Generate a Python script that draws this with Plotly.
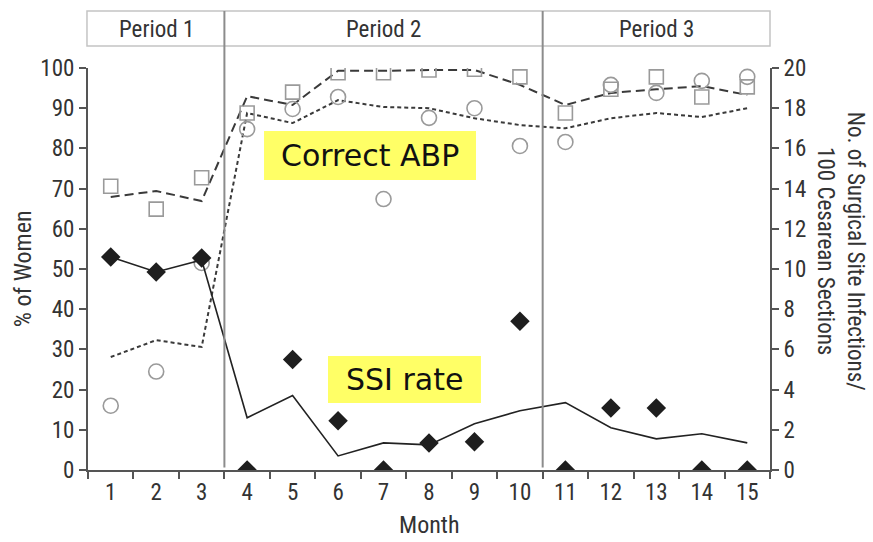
import plotly.graph_objects as go

# Monthly data
months = list(range(1, 16))

# Percent of women (left axis)
pct_squares = [70.6, 64.9, 72.7, 88.8, 94.0, 98.8, 98.8, 99.5, 99.7, 97.8, 88.8, 94.7, 97.8, 92.8, 95.3]
pct_squares_trend = [67.9, 69.4, 66.9, 93.0, 90.8, 99.3, 99.3, 99.5, 99.5, 95.8, 90.8, 93.8, 94.7, 95.5, 93.3]
pct_circles = [16.0, 24.5, 51.5, 84.8, 89.8, 92.8, 67.4, 87.6, 90.0, 80.6, 81.6, 95.8, 93.8, 96.8, 97.8]
pct_circles_trend = [28.1, 32.3, 30.6, 88.8, 86.3, 92.0, 90.3, 90.0, 87.5, 85.8, 85.0, 87.5, 88.8, 87.8, 90.0]

# Surgical site infections per 100 cesarean sections (right axis)
ssi_rate = [10.6, 9.85, 10.55, 0, 5.5, 2.45, 0, 1.34, 1.4, 7.4, 0, 3.08, 3.08, 0, 0]
ssi_trend = [10.6, 9.85, 10.45, 2.6, 3.7, 0.7, 1.35, 1.25, 2.3, 2.95, 3.35, 2.1, 1.55, 1.8, 1.35]

period_labels = ["Period 1", "Period 2", "Period 3"]
period_centers = [2, 7, 13]
period_breaks = [3.5, 10.5]

left_ticks = list(range(0, 101, 10))
right_ticks = list(range(0, 21, 2))

TXT = "#333333"
AX = "#555555"
NARROW = "Liberation Sans Narrow, Arial Narrow, Roboto Condensed, Liberation Sans, sans-serif"

fig = go.Figure()

fig.add_trace(go.Scatter(x=months, y=pct_squares_trend, mode="lines",
                         line=dict(color="#3a3a3a", width=2, dash="9px,5px"),
                         hoverinfo="skip"))
fig.add_trace(go.Scatter(x=months, y=pct_circles_trend, mode="lines",
                         line=dict(color="#3a3a3a", width=2, dash="4px,3px"),
                         hoverinfo="skip"))
fig.add_trace(go.Scatter(x=months, y=pct_squares, mode="markers",
                         marker=dict(symbol="square-open", size=14,
                                     color="#9a9a9a", line=dict(width=1.6, color="#9a9a9a"))))
fig.add_trace(go.Scatter(x=months, y=pct_circles, mode="markers",
                         marker=dict(symbol="circle-open", size=15,
                                     color="#9a9a9a", line=dict(width=1.6, color="#9a9a9a"))))
fig.add_trace(go.Scatter(x=months, y=ssi_trend, mode="lines", yaxis="y2",
                         line=dict(color="#222222", width=1.6), hoverinfo="skip"))
fig.add_trace(go.Scatter(x=months, y=ssi_rate, mode="markers", yaxis="y2",
                         marker=dict(symbol="diamond", size=15, color="#1e1e1e",
                                     line=dict(width=0))))

shapes = []
# header strip above the plot
shapes.append(dict(type="rect", xref="paper", yref="paper", x0=-0.0015, x1=1.0, y0=1.0547, y1=1.1418,
                   line=dict(color="#c4c4c4", width=1.5), fillcolor="rgba(0,0,0,0)", layer="below"))
# period dividers
for b in period_breaks:
    shapes.append(dict(type="line", xref="x", yref="paper", x0=b, x1=b, y0=0.006, y1=1.1418,
                       line=dict(color="#8c8c8c", width=2)))
# x axis line runs slightly past the left axis
shapes.append(dict(type="line", xref="paper", yref="paper", x0=-0.009, x1=0, y0=0, y1=0,
                   line=dict(color=AX, width=2)))
# highlighted label boxes
shapes.append(dict(type="rect", xref="paper", yref="paper", x0=0.2581, x1=0.5689, y0=0.7214, y1=0.8433,
                   fillcolor="#ffff66", line=dict(width=0), layer="above"))
shapes.append(dict(type="rect", xref="paper", yref="paper", x0=0.3519, x1=0.5762, y0=0.1667, y1=0.2836,
                   fillcolor="#ffff66", line=dict(width=0), layer="above"))

annotations = []
for lab, c in zip(period_labels, period_centers):
    annotations.append(dict(text=lab, x=c, y=1.097, xref="x", yref="paper", showarrow=False,
                            font=dict(family=NARROW, size=23, color=TXT), xanchor="center", yanchor="middle"))
annotations.append(dict(text="Correct ABP", x=0.4135, y=0.7823, xref="paper", yref="paper", showarrow=False,
                        font=dict(family="DejaVu Sans, Verdana, sans-serif", size=30, color="#111111"),
                        xanchor="center", yanchor="middle"))
annotations.append(dict(text="SSI rate", x=0.4641, y=0.2251, xref="paper", yref="paper", showarrow=False,
                        font=dict(family="DejaVu Sans, Verdana, sans-serif", size=30, color="#111111"),
                        xanchor="center", yanchor="middle"))
# axis titles
annotations.append(dict(text="% of Women", x=-0.095, y=0.5, xref="paper", yref="paper", showarrow=False,
                        textangle=-90, font=dict(family=NARROW, size=24, color=TXT),
                        xanchor="center", yanchor="middle"))
annotations.append(dict(text="No. of Surgical Site Infections/<br>100 Cesarean Sections", x=1.103, y=0.545,
                        xref="paper", yref="paper", showarrow=False, textangle=90,
                        font=dict(family=NARROW, size=23, color=TXT), xanchor="center", yanchor="middle"))
annotations.append(dict(text="Month", x=0.5, y=-0.137, xref="paper", yref="paper", showarrow=False,
                        font=dict(family=NARROW, size=24, color=TXT), xanchor="center", yanchor="middle"))

fig.update_layout(
    width=873, height=542,
    margin=dict(l=88, r=103, t=68, b=72, autoexpand=False),
    paper_bgcolor="white", plot_bgcolor="white",
    showlegend=False,
    shapes=shapes, annotations=annotations,
    xaxis=dict(range=[0.5, 15.5], tickvals=months, ticktext=[str(m) for m in months],
               ticks="", showgrid=False, zeroline=False, showline=True, linecolor=AX, linewidth=2,
               tickfont=dict(family=NARROW, size=23, color=TXT),
               minor=dict(tick0=0.5, dtick=1, ticks="outside", ticklen=7, tickwidth=2, tickcolor=AX,
                          showgrid=False)),
    yaxis=dict(range=[0, 100], tickvals=left_ticks, ticks="outside", ticklen=7, tickwidth=2,
               tickcolor=AX, showline=True, linecolor=AX, linewidth=2, showgrid=False, zeroline=False,
               tickfont=dict(family=NARROW, size=23, color=TXT)),
    yaxis2=dict(range=[0, 20], tickvals=right_ticks, overlaying="y", side="right", ticks="outside",
                ticklen=7, tickwidth=2, tickcolor=AX, showline=True, linecolor=AX, linewidth=2,
                showgrid=False, zeroline=False, tickfont=dict(family=NARROW, size=23, color=TXT)),
)

fig.write_html("out.html")
